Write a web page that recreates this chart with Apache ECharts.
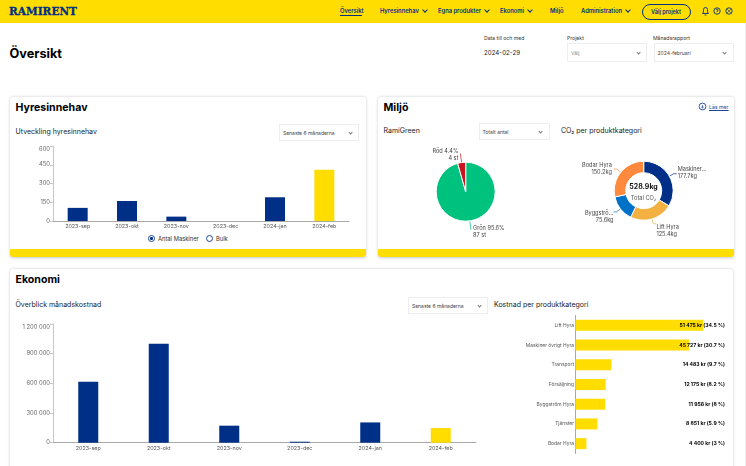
<!DOCTYPE html>
<html lang="sv">
<head>
<meta charset="utf-8">
<title>Översikt</title>
<script src="https://cdn.jsdelivr.net/npm/echarts@6/dist/echarts.min.js"></script>
<style>
    html, body { margin: 0; padding: 0; width: 746px; height: 466px; overflow: hidden; background: #fff; }
    body { position: relative; font-family: Inter, "Noto Sans", sans-serif; color: #1a1a1a; }
    .abs, .card, .select, .nav, .label { position: absolute; white-space: nowrap; }
    #topbar { position: absolute; left: 0; top: 0; width: 746px; height: 23px; background: #ffdd00; }
    #scrolledge { position: absolute; left: 745px; top: 23px; width: 1px; height: 443px; background: #ececec; }
    #logo { left: 9px; top: 4px; font: bold 10.5px/15px "DejaVu Serif", serif; color: #002f87; letter-spacing: 0.05px; -webkit-text-stroke: 0.3px #002f87; }
    .nav { top: 6px; font-size: 5.8px; line-height: 9px; font-weight: 600; color: #002f87; }
    .chev { display: inline-block; width: 3px; height: 3px; border-right: 0.8px solid currentColor; border-bottom: 0.8px solid currentColor; transform: rotate(45deg); }
    .nav .chev { position: absolute; right: -8px; top: 1.5px; }
    #navline { position: absolute; left: 340px; top: 15px; width: 22px; height: 1px; background: #002f87; }
    #pickbtn { left: 641.5px; top: 4px; width: 47px; height: 14px; border: 0.8px solid #002f87; border-radius: 8px; text-align: center; font-size: 5.5px; line-height: 14px; font-weight: 600; color: #002f87; }
    h1 { position: absolute; left: 9.5px; top: 45px; margin: 0; font-size: 12.7px; line-height: 18px; font-weight: 700; color: #000; }
    .label { font-size: 5.1px; line-height: 8px; color: #333; }
    .card { background: #fff; border-radius: 3px; box-shadow: 0 0.5px 3px rgba(0, 0, 0, 0.22); overflow: hidden; }
    .card .band { position: absolute; left: 0; right: 0; bottom: 0; height: 8px; background: #ffdd00; }
    .card h2 { position: absolute; left: 6px; top: 3px; margin: 0; font-size: 10.6px; line-height: 15px; font-weight: 700; color: #000; }
    .sub { position: absolute; font-size: 7px; line-height: 10px; color: #222; white-space: nowrap; }
    .select { box-sizing: border-box; background: #fff; border: 0.7px solid #eceef0; font-size: 5px; color: #444; padding-left: 3px; }
    .select .chev { position: absolute; right: 6px; top: 40%; width: 2.2px; height: 2.2px; border-width: 0.5px; color: #777; }
    .radio { position: absolute; box-sizing: border-box; width: 7px; height: 7px; border: 1px solid #1f459c; border-radius: 50%; }
    .radio.on::after { content: ""; position: absolute; left: 1.2px; top: 1.2px; width: 2.6px; height: 2.6px; border-radius: 50%; background: #002f87; }
    #chart { position: absolute; left: 0; top: 0; width: 746px; height: 466px; }
</style>
</head>
<body>
<div id="topbar"></div>
<div id="scrolledge"></div>
<div id="logo" class="abs">RAMIRENT</div>
<div class="nav" style="left:340px">Översikt</div>
<div id="navline"></div>
<div class="nav" style="left:380px">Hyresinnehav<i class="chev"></i></div>
<div class="nav" style="left:438px">Egna produkter<i class="chev"></i></div>
<div class="nav" style="left:500px">Ekonomi<i class="chev"></i></div>
<div class="nav" style="left:550px">Miljö</div>
<div class="nav" style="left:581px">Administration<i class="chev"></i></div>
<div id="pickbtn" class="abs">Välj projekt</div>
<svg class="abs" style="left:700px;top:5px" width="36" height="12" fill="none" stroke="#002f87" stroke-width="0.9">
    <path d="M2.5 8.5 L3.5 7 V4.5 a2 2 0 0 1 4 0 V7 L8.5 8.5 Z M4.7 10 h1.6"/>
    <circle cx="17" cy="6" r="3.2"/><path d="M16 5 a1 1 0 1 1 1 1.2 V7"/>
    <circle cx="29" cy="6" r="3.2"/><path d="M27 4 L31 8 M31 4 L27 8" stroke-width="0.6"/>
</svg>

<h1>Översikt</h1>
<div class="label" style="left:484px;top:34px">Data till och med</div>
<div class="abs" style="left:484px;top:48px;font-size:6.2px;line-height:10px;color:#222">2024-02-29</div>
<div class="label" style="left:567px;top:34px">Projekt</div>
<div class="select" style="left:567px;top:43px;width:80px;height:19px;line-height:18px;color:#888">Välj<i class="chev"></i></div>
<div class="label" style="left:653px;top:34px">Månadsrapport</div>
<div class="select" style="left:653.5px;top:43px;width:80px;height:19px;line-height:18px">2024-februari<i class="chev"></i></div>

<div class="card" style="left:9.5px;top:96.5px;width:356.5px;height:160.5px">
    <h2>Hyresinnehav</h2><div class="band"></div>
</div>
<div class="sub" style="left:15.5px;top:127px">Utveckling hyresinnehav</div>
<div class="select" style="left:279px;top:123.5px;width:80px;height:17.5px;line-height:16.5px">Senaste 6 månaderna<i class="chev"></i></div>
<i class="radio on" style="left:148px;top:235px"></i>
<div class="label" style="left:158px;top:234.5px;font-size:5.8px">Antal Maskiner</div>
<i class="radio" style="left:206px;top:235px"></i>
<div class="label" style="left:216px;top:234.5px;font-size:5.8px">Bulk</div>

<div class="card" style="left:377.5px;top:96.5px;width:356px;height:160.5px">
    <h2>Miljö</h2><div class="band"></div>
</div>
<svg class="abs" style="left:698px;top:102px" width="9" height="9" fill="none" stroke="#1f459c" stroke-width="0.9">
    <circle cx="4.5" cy="4.5" r="3.4"/><path d="M4.5 3 V6 M3.2 4.8 L4.5 6 L5.8 4.8" stroke-width="0.7"/>
</svg>
<div class="abs" style="left:709px;top:102.5px;font-size:5.2px;line-height:8px;color:#1f459c;text-decoration:underline">Läs mer</div>
<div class="sub" style="left:383.5px;top:126px">RamiGreen</div>
<div class="select" style="left:478.5px;top:122.5px;width:71px;height:17px;line-height:16px">Totalt antal<i class="chev"></i></div>
<div class="sub" style="left:561px;top:126px">CO₂ per produktkategori</div>

<div class="card" style="left:9.5px;top:269px;width:723.5px;height:210px">
    <h2>Ekonomi</h2>
</div>
<div class="sub" style="left:15.5px;top:299.5px">Överblick månadskostnad</div>
<div class="select" style="left:408px;top:296.5px;width:80px;height:17px;line-height:16px">Senaste 6 månaderna<i class="chev"></i></div>
<div class="sub" style="left:494px;top:299.5px">Kostnad per produktkategori</div>

<div id="chart"></div>
<script>
const FONT = 'Inter, "Noto Sans", sans-serif';
const NAVY = '#002f87';
const YELLOW = '#ffdd00';

const months = ['2023-sep', '2023-okt', '2023-nov', '2023-dec', '2024-jan', '2024-feb'];
const rentalCounts = [105, 160, 35, 0, 190, 410];
const monthlyCosts = [617000, 1001000, 172000, 10000, 205000, 148000];

const greenNames = ['Grön', 'Röd'];
const greenCounts = [87, 4];
const greenShares = ['95.6%', '4.4%'];

const co2Names = ['Maskiner...', 'Lift Hyra', 'Byggströ...', 'Bodar Hyra'];
const co2Values = [177.7, 125.4, 75.6, 150.2];
const co2Total = '528.9kg';

const costCategories = ['Lift Hyra', 'Maskiner övrigt Hyra', 'Transport', 'Försäljning', 'Byggström Hyra', 'Tjänster', 'Bodar Hyra'];
const costValues = [51475, 45727, 14483, 12175, 11956, 8851, 4400];
const costLabels = ['51 475 kr (34.5 %)', '45 727 kr (30.7 %)', '14 483 kr (9.7 %)', '12 175 kr (8.2 %)', '11 956 kr (8 %)', '8 851 kr (5.9 %)', '4 400 kr (3 %)'];

const spaced = (v) => String(v).replace(/\B(?=(\d{3})+$)/g, ' ');
const lastYellow = (values) => values.map((value, i) => (
    i === values.length - 1 ? { value, itemStyle: { color: YELLOW } } : value
));

const monthAxis = (gridIndex) => ({
    type: 'category',
    gridIndex,
    data: months,
    axisLine: { lineStyle: { color: '#a8a8a8', width: 1 } },
    axisTick: { alignWithLabel: true, length: 2, lineStyle: { color: '#a8a8a8' } },
    axisLabel: { fontFamily: FONT, fontSize: 5.4, color: '#555', margin: 3 },
});
const valueAxis = (gridIndex, max, interval) => ({
    type: 'value',
    gridIndex,
    min: 0,
    max,
    interval,
    splitLine: { show: false },
    axisLine: { show: true, lineStyle: { color: '#c8c8c8', width: 1 } },
    axisTick: { show: true, length: 3, lineStyle: { color: '#c8c8c8' } },
    axisLabel: { fontFamily: FONT, fontSize: 5.8, color: '#666', margin: 3, formatter: spaced, verticalAlignMaxLabel: 'top' },
});
const pieLabel = { fontFamily: FONT, fontSize: 5.6, lineHeight: 7.2, color: '#444' };
const greenLabelShift = [[-3, 2], [3, 1]];
const co2LabelShift = [[-4, -1], [-5, 7], [5, 5], [3, 0]];

const chart = echarts.init(document.getElementById('chart'), null, { renderer: 'canvas' });
chart.setOption({
    animation: false,
    grid: [
        { left: 53, width: 296, top: 146, height: 75 },
        { left: 53, width: 423, top: 324, height: 118.7 },
        { left: 575.5, width: 149.5, top: 315.5, height: 138 },
    ],
    xAxis: [
        monthAxis(0),
        monthAxis(1),
        { type: 'value', gridIndex: 2, min: 0, max: 60200, show: false },
    ],
    yAxis: [
        valueAxis(0, 600, 150),
        valueAxis(1, 1200000, 300000),
        {
            type: 'category',
            gridIndex: 2,
            inverse: true,
            data: costCategories,
            axisLine: { lineStyle: { color: '#a8a8a8', width: 1 } },
            axisTick: { show: false },
            axisLabel: { fontFamily: FONT, fontSize: 4.9, color: '#555', margin: 1.5 },
        },
        {
            type: 'category',
            gridIndex: 2,
            inverse: true,
            position: 'right',
            data: costLabels,
            z: 10,
            axisLine: { show: false },
            axisTick: { show: false },
            axisLabel: { inside: true, margin: 0, fontFamily: FONT, fontSize: 5.1, fontWeight: 700, color: '#000' },
        },
    ],
    title: {
        text: co2Total,
        subtext: 'Total CO₂',
        left: 643.5,
        top: 182,
        textAlign: 'center',
        itemGap: 2,
        padding: 0,
        textStyle: { fontFamily: FONT, fontSize: 7, lineHeight: 10, fontWeight: 700, color: '#111' },
        subtextStyle: { fontFamily: FONT, fontSize: 5.7, lineHeight: 8, color: '#555' },
    },
    series: [
        {
            type: 'bar',
            xAxisIndex: 0,
            yAxisIndex: 0,
            barWidth: 20,
            itemStyle: { color: NAVY },
            data: lastYellow(rentalCounts),
        },
        {
            type: 'bar',
            xAxisIndex: 1,
            yAxisIndex: 1,
            barWidth: 20,
            itemStyle: { color: NAVY },
            data: lastYellow(monthlyCosts),
        },
        {
            type: 'bar',
            xAxisIndex: 2,
            yAxisIndex: 2,
            barWidth: 11,
            itemStyle: { color: YELLOW },
            data: costValues,
        },
        {
            type: 'pie',
            center: [465.7, 191.7],
            radius: [0, 29.5],
            startAngle: 90,
            itemStyle: { borderColor: '#fff', borderWidth: 1 },
            label: { ...pieLabel, formatter: (p) => `${p.name} ${greenShares[p.dataIndex]}\n${p.value} st` },
            labelLine: { length: 9, length2: 0, lineStyle: { width: 0.7 } },
            labelLayout: (p) => ({ dx: greenLabelShift[p.dataIndex][0], dy: greenLabelShift[p.dataIndex][1] }),
            data: greenNames.map((name, i) => ({
                name,
                value: greenCounts[i],
                itemStyle: { color: ['#00c27f', '#c8141e'][i] },
            })),
        },
        {
            type: 'pie',
            center: [643.7, 190.7],
            radius: [18, 29.5],
            startAngle: 90,
            itemStyle: { borderColor: '#fff', borderWidth: 1 },
            label: { ...pieLabel, formatter: (p) => `${p.name}\n${p.value}kg` },
            labelLine: { length: 5, length2: 3, lineStyle: { width: 0.7 } },
            labelLayout: (p) => ({ dx: co2LabelShift[p.dataIndex][0], dy: co2LabelShift[p.dataIndex][1] }),
            data: co2Names.map((name, i) => ({
                name,
                value: co2Values[i],
                itemStyle: { color: [NAVY, '#f2b141', '#0071c8', '#ff8a3d'][i] },
            })),
        },
    ],
});
</script>
</body>
</html>
